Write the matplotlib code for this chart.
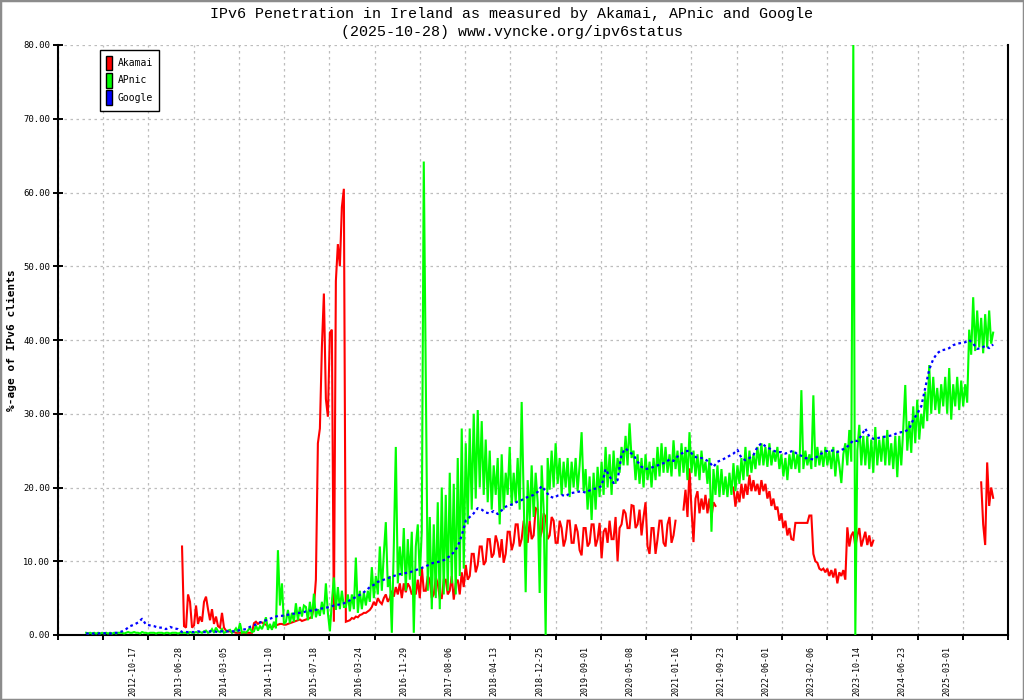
import numpy as np
import matplotlib
matplotlib.use("Agg")
import matplotlib.pyplot as plt
import matplotlib.dates as mdates
from matplotlib.patches import Patch, Rectangle

nan = np.nan

TITLE_1 = "IPv6 Penetration in Ireland as measured by Akamai, APnic and Google"
TITLE_2 = "(2025-10-28) www.vyncke.org/ipv6status"
YLABEL = "%-age of IPv6 clients"
SERIES_NAMES = ["Akamai", "APnic", "Google"]
SERIES_COLORS = ["#ff0000", "#00ff00", "#0000ff"]

TICK_LABELS = ["2012-10-17", "2013-06-28", "2014-03-05", "2014-11-10", "2015-07-18",
               "2016-03-24", "2016-11-29", "2017-08-06", "2018-04-13", "2018-12-25",
               "2019-09-01", "2020-05-08", "2021-01-16", "2021-09-23", "2022-06-01",
               "2023-02-06", "2023-10-14", "2024-06-23", "2025-03-01"]
Y_TICKS = [0, 10, 20, 30, 40, 50, 60, 70, 80]

# all series start on the same day; Akamai/APnic sampled every ~11 days, Google every ~22 days
SAMPLE_START = "2012-01-31"
STEP_FINE_DAYS = 11.085
STEP_GOOGLE_DAYS = 22.17

akamai = [
    nan, nan, nan, nan, nan, nan, nan, nan, nan, nan,
    nan, nan, nan, nan, nan, nan, nan, nan, nan, nan,
    nan, nan, nan, nan, nan, nan, nan, nan, nan, nan,
    nan, nan, nan, nan, nan, nan, nan, nan, nan, nan,
    nan, nan, nan, nan, nan, nan, nan, nan, 12.0, 1.2,
    1.0, 5.5, 4.5, 1.0, 1.3, 4.0, 1.5, 2.5, 1.8, 4.5,
    5.2, 3.5, 2.0, 3.5, 1.5, 2.5, 1.2, 1.0, 3.0, 1.0,
    0.6, 0.5, 0.5, 0.4, 0.4, 0.3, 0.3, 0.3, 0.3, 0.3,
    0.3, 0.3, 0.3, 0.3, 1.6, 1.8, 1.5, 1.7, 1.7, 1.5,
    1.4, 1.2, 1.1, 1.0, 1.2, 1.3, 1.4, 1.5, 1.5, 1.4,
    1.4, 1.5, 1.6, 1.7, 1.8, 1.9, 2.0, 2.1, 1.9, 2.0,
    2.1, 2.2, 2.3, 2.5, 3.8, 7.5, 26.0, 28.0, 39.0, 46.3,
    32.0, 29.6, 41.0, 41.4, 1.8, 48.0, 53.0, 50.0, 58.0, 60.5,
    1.8, 1.9, 2.0, 2.3, 2.2, 2.5, 2.4, 2.7, 2.8, 3.0,
    3.0, 3.2, 3.4, 3.8, 4.5, 4.0, 5.0, 4.5, 4.2, 5.0,
    5.5, 4.5, 5.0, 6.0, 5.2, 6.5, 5.5, 7.0, 5.0, 7.0,
    5.8, 7.0, 6.5, 5.5, 6.0, 5.5, 7.5, 5.0, 9.2, 6.0,
    6.0, 8.0, 7.5, 5.0, 5.5, 7.8, 7.0, 5.0, 5.0, 7.5,
    7.5, 5.5, 6.0, 8.0, 4.8, 7.0, 7.5, 5.5, 8.5, 6.5,
    9.5, 7.5, 8.0, 11.0, 11.0, 8.5, 9.5, 12.0, 12.0, 9.5,
    10.0, 13.0, 13.0, 10.5, 11.0, 13.5, 12.5, 10.5, 13.0, 9.8,
    11.0, 14.0, 14.0, 11.5, 12.5, 15.0, 15.0, 12.0, 13.0, 15.5,
    14.0, 12.5, 15.5, 13.0, 13.5, 17.2, 17.0, 13.0, 14.0, 16.5,
    16.0, 13.0, 13.5, 16.0, 15.5, 12.5, 12.5, 15.5, 14.5, 12.0,
    13.0, 15.5, 15.5, 12.5, 12.5, 15.0, 14.0, 11.5, 10.8, 14.5,
    14.5, 12.0, 12.5, 15.0, 15.0, 12.0, 13.0, 15.2, 10.4, 14.0,
    14.5, 12.5, 15.5, 13.0, 13.0, 16.0, 10.0, 14.5, 15.0, 17.0,
    16.5, 14.5, 14.5, 17.6, 17.5, 14.5, 15.0, 17.0, 13.5, 16.0,
    18.0, 12.0, 11.0, 14.5, 14.5, 11.0, 13.0, 15.5, 15.5, 12.5,
    12.0, 15.0, 16.0, 12.5, 13.5, 15.5, nan, nan, nan, 17.0,
    19.7, 16.0, 22.6, 17.0, 12.6, 18.5, 19.5, 16.5, 18.5, 17.0,
    19.0, 16.5, 18.5, 16.0, 18.0, 17.5, nan, nan, nan, nan,
    nan, nan, nan, nan, 20.0, 17.4, 19.5, 18.0, 20.5, 18.5,
    20.5, 19.0, 21.7, 19.5, 21.0, 19.5, 20.5, 19.0, 21.0, 19.5,
    20.5, 18.5, 19.5, 17.5, 18.5, 17.0, 17.4, 15.5, 16.5, 14.5,
    15.5, 13.5, 14.5, 13.0, 12.9, 15.2, 15.2, 15.2, 15.2, 15.2,
    15.2, 15.2, 16.2, 16.2, 11.0, 10.0, 9.8, 9.0, 8.8, 9.0,
    8.5, 9.0, 8.0, 8.8, 7.8, 9.0, 7.0, 8.5, 8.0, 8.8,
    7.5, 14.6, 12.0, 13.5, 14.0, 12.0, 13.5, 14.5, 12.0, 13.0,
    14.0, 12.2, 13.5, 12.0, 12.8, nan, nan, nan, nan, nan,
    nan, nan, nan, nan, nan, nan, nan, nan, nan, nan,
    nan, nan, nan, nan, nan, nan, nan, nan, nan, nan,
    nan, nan, nan, nan, nan, nan, nan, nan, nan, nan,
    nan, nan, nan, nan, nan, nan, nan, nan, nan, nan,
    nan, nan, nan, nan, nan, nan, nan, nan, 20.7, 15.0,
    12.2, 23.4, 17.5, 20.0, 18.6,
]

apnic = [
    0.3, 0.2, 0.3, 0.2, 0.3, 0.2, 0.3, 0.2, 0.3, 0.2,
    0.3, 0.2, 0.3, 0.2, 0.3, 0.2, 0.3, 0.3, 0.3, 0.2,
    0.3, 0.4, 0.3, 0.3, 0.4, 0.3, 0.3, 0.2, 0.4, 0.3,
    0.3, 0.2, 0.3, 0.3, 0.3, 0.2, 0.3, 0.3, 0.3, 0.2,
    0.3, 0.3, 0.2, 0.3, 0.3, 0.3, 0.2, 0.3, 0.3, 0.3,
    0.3, 0.2, 0.4, 0.3, 0.3, 0.4, 0.3, 0.4, 0.3, 0.5,
    0.6, 0.3, 0.4, 0.8, 0.3, 1.0, 0.5, 0.4, 0.8, 0.3,
    0.4, 0.6, 0.7, 0.3, 0.5, 0.9, 0.4, 1.6, 0.3, 0.4,
    0.3, 0.6, 1.0, 0.4, 0.5, 1.3, 0.6, 1.2, 0.8, 1.5,
    2.4, 0.7, 1.5, 0.7, 1.8, 0.9, 11.5, 4.0, 7.0, 1.5,
    1.8, 3.4, 1.6, 3.0, 1.8, 4.3, 2.0, 3.8, 2.5, 4.0,
    3.8, 2.0, 4.5, 2.2, 5.6, 2.4, 3.5, 2.6, 4.5, 2.8,
    7.0, 3.0, 0.5, 4.5, 7.8, 3.4, 6.5, 3.5, 6.0, 3.8,
    3.8, 5.5, 3.2, 5.5, 3.5, 10.5, 3.0, 6.0, 3.5, 5.8,
    4.0, 6.0, 4.5, 9.2, 5.0, 8.0, 5.5, 12.0, 6.0, 11.0,
    15.3, 6.5, 8.0, 0.3, 12.0, 25.5, 7.0, 12.0, 8.0, 14.5,
    6.0, 13.0, 7.5, 14.0, 0.3, 12.0, 15.0, 8.0, 14.0, 64.2,
    35.5, 6.0, 16.0, 3.5, 15.0, 5.0, 18.0, 3.5, 20.0, 5.5,
    19.0, 6.0, 22.0, 7.0, 20.5, 5.5, 24.0, 8.0, 28.0, 9.0,
    26.0, 15.0, 28.0, 17.0, 30.0, 18.5, 30.5, 20.0, 29.0, 19.0,
    26.5, 18.0, 25.0, 17.0, 23.0, 19.0, 24.0, 15.0, 24.5, 17.0,
    22.0, 19.0, 25.5, 17.5, 22.0, 18.0, 24.0, 17.0, 31.6, 19.0,
    5.8, 21.0, 15.5, 23.0, 16.0, 22.0, 18.0, 5.7, 23.0, 17.0,
    0.0, 24.0, 19.7, 25.0, 20.0, 26.0, 20.5, 24.0, 19.0, 23.5,
    20.0, 24.0, 18.7, 23.5, 20.0, 24.0, 19.5, 23.0, 27.5, 19.5,
    22.5, 17.0, 21.5, 15.6, 22.0, 17.0, 22.8, 18.7, 23.5, 19.0,
    25.5, 20.0, 24.5, 19.0, 25.0, 20.5, 24.0, 22.0, 25.5, 23.0,
    27.0, 23.0, 28.7, 24.0, 25.0, 21.0, 24.5, 20.5, 24.0, 20.0,
    24.5, 21.0, 23.5, 20.0, 24.0, 21.0, 25.5, 21.5, 26.0, 22.0,
    25.5, 22.0, 24.5, 21.5, 26.4, 22.5, 25.0, 21.5, 26.0, 22.0,
    25.5, 21.0, 27.5, 22.0, 25.0, 21.5, 24.5, 21.0, 25.0, 22.0,
    23.5, 20.5, 24.0, 14.0, 22.5, 19.0, 23.0, 18.7, 22.5, 19.0,
    21.5, 18.7, 22.0, 19.0, 23.3, 19.5, 23.0, 20.5, 24.0, 21.0,
    25.5, 21.5, 25.0, 22.0, 24.5, 22.5, 25.5, 23.0, 26.0, 23.0,
    25.5, 22.8, 26.0, 23.0, 25.0, 23.5, 25.5, 22.5, 24.5, 21.5,
    24.0, 21.0, 24.5, 22.5, 25.0, 22.5, 24.5, 22.0, 33.2, 22.5,
    25.0, 23.0, 24.5, 22.5, 32.5, 22.8, 25.5, 23.0, 25.0, 22.8,
    25.5, 23.0, 25.0, 22.5, 25.5, 21.5, 25.0, 23.0, 20.6, 24.5,
    26.0, 23.0, 27.8, 23.5, 80.0, 0.0, 25.0, 28.5, 23.0, 27.0,
    23.0, 27.0, 22.5, 26.5, 22.0, 28.2, 23.0, 26.5, 23.5, 27.0,
    23.0, 27.8, 23.0, 26.0, 22.5, 27.0, 21.4, 27.0, 23.0, 28.0,
    33.9, 25.0, 29.0, 24.7, 31.0, 26.0, 31.9, 26.5, 30.0, 28.0,
    33.0, 29.0, 36.6, 30.0, 35.0, 30.5, 33.5, 30.0, 34.0, 31.0,
    35.0, 30.0, 36.2, 29.2, 34.0, 31.0, 35.0, 30.5, 34.5, 31.0,
    34.0, 31.5, 41.4, 38.0, 45.8, 38.5, 44.0, 39.0, 43.0, 38.2,
    43.5, 39.0, 44.0, 39.5, 41.0,
]

google = [
    0.2, 0.2, 0.2, 0.2, 0.3, 0.2, 0.2, 0.3, 0.3, 0.5,
    0.8, 1.2, 1.4, 1.7, 2.2, 1.4, 1.3, 1.2, 1.0, 1.0,
    0.8, 1.1, 0.9, 0.8, 0.4, 0.4, 0.4, 0.4, 0.5, 0.4,
    0.4, 0.5, 0.5, 0.4, 0.5, 0.5, 0.5, 0.5, 0.6, 0.7,
    0.8, 1.1, 1.3, 1.6, 1.8, 2.0, 2.2, 2.4, 2.6, 2.6,
    2.7, 2.8, 2.9, 3.0, 3.0, 3.2, 3.3, 3.3, 3.5, 3.6,
    3.7, 3.8, 4.0, 4.1, 4.2, 4.4, 4.7, 5.0, 5.3, 5.6,
    6.0, 6.5, 6.8, 7.2, 7.4, 7.6, 7.8, 8.0, 8.2, 8.3,
    8.4, 8.5, 8.7, 8.9, 9.1, 9.3, 9.6, 9.8, 9.9, 10.0,
    10.3, 10.7, 11.2, 12.0, 13.5, 15.5, 16.0, 16.5, 17.2, 17.0,
    16.6, 16.5, 16.8, 16.4, 16.9, 17.4, 17.6, 17.8, 18.1, 18.3,
    18.6, 18.8, 19.0, 19.4, 20.2, 19.5, 18.8, 18.6, 18.9, 19.0,
    18.8, 19.2, 19.3, 19.4, 19.5, 19.3, 19.6, 19.8, 19.9, 20.2,
    22.5, 21.5, 20.6, 21.0, 24.5, 25.3, 24.8, 24.4, 23.5, 22.8,
    22.5, 22.6, 22.8, 23.0, 23.2, 23.4, 23.8, 23.6, 24.2, 24.6,
    24.9, 25.0, 24.3, 24.0, 24.0, 23.8, 23.4, 22.8, 23.5, 23.7,
    24.0, 24.3, 24.6, 25.1, 24.0, 23.7, 24.0, 24.4, 25.5, 26.0,
    25.6, 25.3, 25.0, 24.8, 24.8, 24.6, 24.8, 25.0, 24.5, 24.3,
    24.0, 23.9, 23.8, 24.2, 24.6, 24.9, 25.0, 25.0, 24.8, 25.1,
    25.3, 25.8, 26.4, 26.3, 27.0, 28.0, 26.9, 26.6, 26.7, 26.8,
    26.9, 27.0, 27.1, 27.4, 27.5, 27.6, 28.0, 29.2, 30.0, 31.0,
    33.5, 36.0, 37.4, 38.2, 38.6, 38.7, 38.9, 39.3, 39.5, 39.6,
    39.7, 40.0, 39.5, 38.8, 38.9, 39.2, 38.9, 39.4,
]

MONO = "DejaVu Sans Mono"
TITLE_FONT = "Liberation Mono"

fig = plt.figure(figsize=(10.24, 7.0), dpi=100)
fig.patches.append(Rectangle((0, 0), 1, 1, transform=fig.transFigure, fill=False,
                             edgecolor="#8c8c8c", linewidth=2.5))
ax = fig.add_axes([58 / 1024, 65 / 700, 950 / 1024, 590 / 700])

t0 = mdates.date2num(np.datetime64(SAMPLE_START))
for vals, col in zip([akamai, apnic], SERIES_COLORS[:2]):
    v = np.array(vals, dtype=float)
    x = t0 + STEP_FINE_DAYS * np.arange(len(v))
    ax.plot(x, v, color=col, lw=1.5, solid_joinstyle="miter", zorder=3)
g = np.array(google, dtype=float)
xg = t0 + STEP_GOOGLE_DAYS * np.arange(len(g))
ax.plot(xg, g, color=SERIES_COLORS[2], lw=1.6, linestyle=(0, (1.2, 1.4)), zorder=4)

# category-style axis: grid ticks every label interval, labels shifted right of them
lab = mdates.date2num(np.array(TICK_LABELS, dtype="datetime64[D]"))
step = (lab[-1] - lab[0]) / (len(lab) - 1)
g0 = lab[0] - step * 75 / 45.24
grid_ticks = g0 + step * np.arange(22)
ax.set_xlim(grid_ticks[0], grid_ticks[-1])
ax.set_xticks(grid_ticks)
ax.set_xticklabels([])
for d, s in zip(lab, TICK_LABELS):
    ax.text(d, -11 / 590, s, transform=ax.get_xaxis_transform(), rotation=90,
            ha="center", va="top", fontsize=6.0, family=MONO)

ax.set_ylim(0, 80)
ax.set_yticks(Y_TICKS)
ax.set_yticklabels([f"{v:.2f}" for v in Y_TICKS], fontsize=6.4, family=MONO)

ax.tick_params(axis="x", direction="out", length=3.8, width=1.4, color="black")
ax.tick_params(axis="y", direction="inout", length=6.5, width=1.4, color="black", pad=2.5)
ax.grid(True, color="#bdbdbd", linestyle=(0, (2.0, 2.8)), linewidth=0.9, zorder=0)
ax.set_axisbelow(True)
for side in ["left", "bottom", "right"]:
    ax.spines[side].set_linewidth(1.5)
    ax.spines[side].set_color("black")
ax.spines["top"].set_visible(False)

fig.text(0.5, 1 - 14 / 700, TITLE_1, ha="center", va="center", fontsize=10.8, family=TITLE_FONT)
fig.text(0.5, 1 - 32 / 700, TITLE_2, ha="center", va="center", fontsize=10.8, family=TITLE_FONT)
fig.text(12 / 1024, 1 - 340 / 700, YLABEL, rotation=90, ha="center", va="center",
         fontsize=8, family=MONO, weight="bold")

handles = [Patch(facecolor=c, edgecolor="black", linewidth=1.0, label=n)
           for n, c in zip(SERIES_NAMES, SERIES_COLORS)]
leg = ax.legend(handles=handles, loc="upper left",
                bbox_to_anchor=((100 - 58) / 950, (635 - 50) / 590),
                borderaxespad=0, frameon=True, fancybox=False, edgecolor="black",
                framealpha=1, handlelength=0.65, handleheight=1.9, handletextpad=0.6,
                labelspacing=0.3, borderpad=0.6, prop={"family": MONO, "size": 7})
leg.get_frame().set_linewidth(1.0)

fig.savefig("out.png", dpi=100)
